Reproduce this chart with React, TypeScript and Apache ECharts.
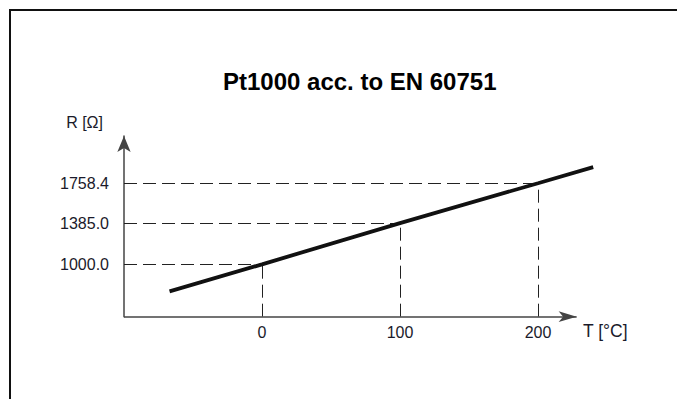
import React, { useEffect, useRef } from "react";
import * as echarts from "echarts";

const titleText = "Pt1000 acc. to EN 60751";
const yName = "R [Ω]";
const xName = "T [°C]";
const xTicks = [0, 100, 200];
const yTicks = [1000.0, 1385.0, 1758.4];
const lineT = [-67, 0, 100, 200, 240];
const lineR = [747, 1000, 1385, 1758.4, 1909];
const xMin = -100;
const xAxisEnd = 228;
const yMin = 510;

export default function App() {
  const ref = useRef<HTMLDivElement>(null);
  useEffect(() => {
    if (!ref.current) return;
    const chart = echarts.init(ref.current, null, { renderer: "svg" });
    const dash = { type: [13, 6] as any, color: "#222", width: 1 };
    const markData: any[] = [];
    xTicks.forEach((t, i) => {
      markData.push([{ coord: [xMin, yTicks[i]] }, { coord: [t, yTicks[i]] }]);
      markData.push([{ coord: [t, yMin] }, { coord: [t, yTicks[i]] }]);
    });
    // x axis line with arrow
    markData.push([
      {
        coord: [xMin, yMin],
        symbol: "none",
        lineStyle: { type: "solid", color: "#444", width: 1.5 },
      },
      {
        coord: [xAxisEnd, yMin],
        symbol: "arrow",
        symbolSize: [8, 18],
        lineStyle: { type: "solid", color: "#444", width: 1.5 },
      },
    ]);
    const labelFont = "'Liberation Sans', Arial, Helvetica, sans-serif";
    chart.setOption({
      animation: false,
      backgroundColor: "#ffffff",
      title: {
        text: titleText,
        left: 218,
        top: 64,
        textStyle: {
          fontFamily: "'Liberation Sans', Arial, sans-serif",
          fontWeight: "bold",
          fontSize: 24,
          color: "#000",
        },
      },
      grid: {
        left: 124,
        right: 76.9,
        top: 136,
        bottom: 82.3,
        containLabel: false,
        outerBoundsMode: "none",
      },
      xAxis: {
        type: "value",
        min: xMin,
        max: 245,
        splitLine: { show: false },
        axisTick: { show: false },
        axisLine: { show: false },
        axisLabel: {
          customValues: xTicks,
          formatter: (v: number) => String(v),
          color: "#1a1a2a",
          fontSize: 16,
          fontFamily: labelFont,
          margin: 8,
        },
      },
      yAxis: {
        type: "value",
        min: yMin,
        max: 2200,
        splitLine: { show: false },
        axisTick: { show: false },
        axisLine: {
          show: true,
          onZero: false,
          lineStyle: { color: "#444", width: 1.5 },
          symbol: ["none", "arrow"],
          symbolSize: [10, 16],
        },
        axisLabel: {
          customValues: yTicks,
          formatter: (v: number) => v.toFixed(1),
          color: "#1a1a2a",
          fontSize: 16,
          fontFamily: labelFont,
          margin: 15,
        },
      },
      series: [
        {
          type: "line",
          data: lineT.map((t, i) => [t, lineR[i]]),
          showSymbol: false,
          lineStyle: { color: "#111", width: 3.8 },
          z: 5,
          markLine: {
            silent: true,
            symbol: ["none", "none"],
            label: { show: false },
            lineStyle: dash,
            data: markData,
          },
        },
      ],
      graphic: [
        {
          type: "rect",
          shape: { x: 10, y: 10, width: 700, height: 420 },
          style: { fill: "none", stroke: "#111", lineWidth: 2 },
          silent: true,
        },
        {
          type: "text",
          x: 103,
          y: 122,
          style: {
            text: yName,
            align: "right",
            verticalAlign: "middle",
            fontSize: 16,
            fontFamily: labelFont,
            fill: "#1a1a2a",
          },
        },
        {
          type: "text",
          x: 583,
          y: 331,
          style: {
            text: xName,
            align: "left",
            verticalAlign: "middle",
            fontSize: 17.5,
            fontFamily: labelFont,
            fill: "#1a1a2a",
          },
        },
      ],
    });
    return () => chart.dispose();
  }, []);
  return (
    <div
      ref={ref}
      style={{ position: "fixed", left: 0, top: 0, width: 677, height: 399 }}
    />
  );
}
